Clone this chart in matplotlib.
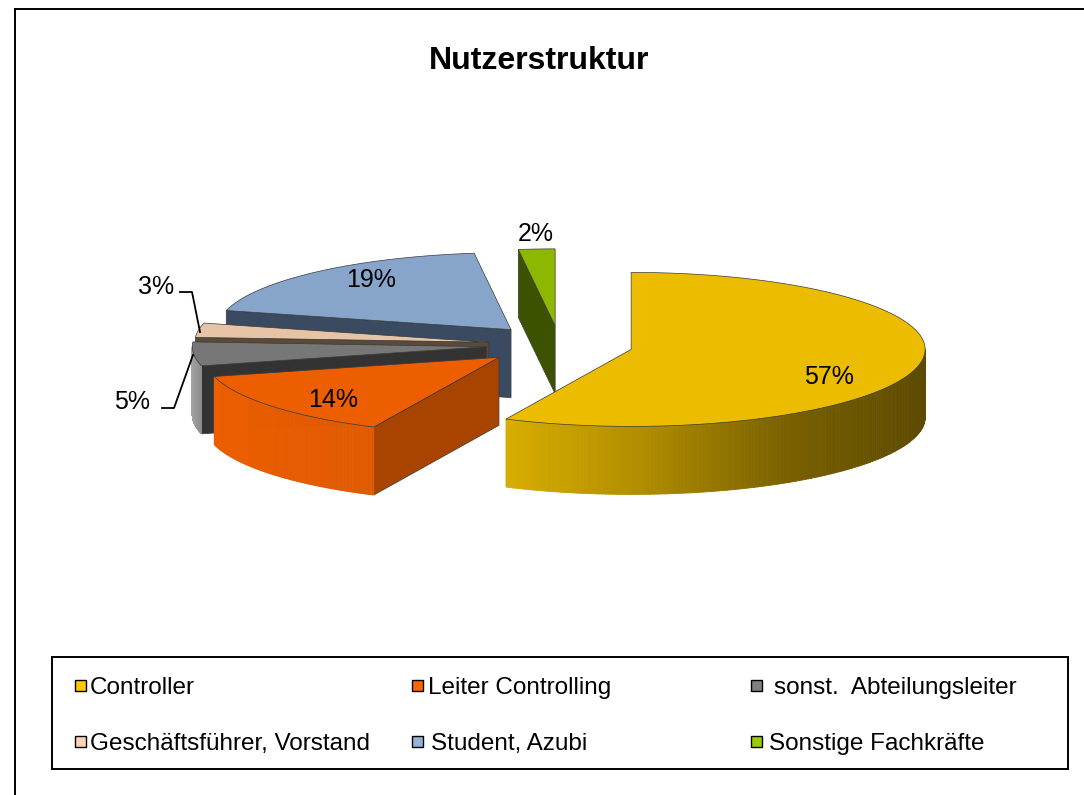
import numpy as np
import matplotlib
matplotlib.use("Agg")
import matplotlib.pyplot as plt
from matplotlib.colors import LinearSegmentedColormap
from matplotlib.collections import PolyCollection
from matplotlib.patches import Polygon, Rectangle

plt.rcParams["font.family"] = ["Liberation Sans", "DejaVu Sans"]

categories = ["Controller", "Leiter Controlling", "sonst.  Abteilungsleiter",
              "Geschäftsführer, Vorstand", "Student, Azubi", "Sonstige Fachkräfte"]
values = [57, 14, 5, 3, 19, 2]

top_colors = ["#EBBC00", "#EC5E00", "#777777", "#E8C4A6", "#87A4CB", "#8CB800"]
face_colors = ["#6A5500", "#A94400", "#333333", "#5A4A3C", "#3A4A60", "#3D5200"]
outer_colors = [["#D8AE00", "#B08C00", "#7A6100", "#5C4A00"],
                ["#EC5E00", "#E05A00"],
                ["#A0A0A0", "#8A8A8A"],
                ["#8A7460", "#8A7460"],
                ["#3A4A60", "#3A4A60"],
                ["#3D5200", "#3D5200"]]
legend_colors = ["#FFC800", "#FF6600", "#808080", "#FFD3B4", "#95B3D7", "#99CC00"]

CENTER = (556, 345)
RX, RY = 294, 77
DEPTH = 68
EXPLODE = [77, 74, 70, 68, 68, 77]
NUDGE = [(0, 0), (0, 0), (0, 0), (0, 0), (0, -2), (4, 1)]
DRAW_ORDER = [4, 5, 3, 2, 1, 0]

LABEL_POS = [(829, 377), (333, 400), (132, 402), (156, 287), (371, 280), (536, 234)]
LEADERS = {2: [(162, 408), (174, 408), (193, 355)],
           3: [(180, 292), (192, 292), (200, 332)]}


def point(apex, theta):
    return apex[0] + RX * np.sin(theta), apex[1] - RY * np.cos(theta)


def i_z(i):
    return 2 + DRAW_ORDER.index(i)


def draw_slice(ax, i, start, end):
    mid = (start + end) / 2
    apex = (CENTER[0] + EXPLODE[i] * np.sin(mid) + NUDGE[i][0],
            CENTER[1] - EXPLODE[i] * RY / RX * np.cos(mid) + NUDGE[i][1])
    edge_kw = dict(edgecolor="#3a3a3a", linewidth=0.5)

    # radial wall, only the one facing the viewer
    for theta, visible in [(start, np.sin(start) < -1e-6), (end, np.sin(end) > 1e-6)]:
        if visible:
            x, y = point(apex, theta)
            ax.add_patch(Polygon([apex, (x, y), (x, y + DEPTH), (apex[0], apex[1] + DEPTH)],
                                 facecolor=face_colors[i], zorder=i_z(i), **edge_kw))

    # outer curved wall, front half only
    lo, hi = max(start, np.pi / 2), min(end, 3 * np.pi / 2)
    if hi > lo:
        th = np.linspace(lo, hi, 160)
        xs, ys = point(apex, th)
        quads = [[(xs[k], ys[k]), (xs[k + 1], ys[k + 1]),
                  (xs[k + 1], ys[k + 1] + DEPTH), (xs[k], ys[k] + DEPTH)]
                 for k in range(len(th) - 1)]
        cmap = LinearSegmentedColormap.from_list("wall", outer_colors[i])
        pos = (xs[:-1] - xs.min()) / max(xs.max() - xs.min(), 1)
        cols = cmap(pos)
        ax.add_collection(PolyCollection(quads, facecolors=cols, edgecolors=cols,
                                         linewidths=0.6, zorder=i_z(i)))

    # top surface
    th = np.linspace(start, end, 120)
    xs, ys = point(apex, th)
    ax.add_patch(Polygon([apex] + list(zip(xs, ys)), facecolor=top_colors[i],
                         zorder=i_z(i) + 0.5, **edge_kw))


def main():
    fig = plt.figure(figsize=(10.84, 7.95), dpi=100)
    ax = fig.add_axes([0, 0, 1, 1])
    ax.set_xlim(0, 1084)
    ax.set_ylim(795, 0)
    ax.axis("off")

    # outer chart frame, the right side is cut off in the source
    ax.plot([15, 15], [795, 8.5], color="black", lw=1.4, zorder=1)
    ax.plot([15, 1084], [8.5, 8.5], color="black", lw=1.4, zorder=1)

    ax.text(539, 61, "Nutzerstruktur", fontsize=23, fontweight="bold", ha="center", va="center")

    shares = np.array(values) / sum(values)
    edges = np.concatenate([[0], np.cumsum(shares)]) * 2 * np.pi
    for i in DRAW_ORDER:
        draw_slice(ax, i, edges[i], edges[i + 1])

    for i, pos in enumerate(LABEL_POS):
        ax.text(pos[0], pos[1], f"{values[i]}%", fontsize=18, ha="center", va="center", zorder=20)

    for pts in LEADERS.values():
        xs, ys = zip(*pts)
        ax.plot(xs, ys, color="black", lw=1.3, zorder=19)

    # legend box
    ax.add_patch(Rectangle((52, 657), 1016, 112, facecolor="white", edgecolor="black",
                           linewidth=1.4, zorder=1))
    col_x = [75, 412, 751]
    row_y = [686, 742]
    text_x = [[90, 428, 774], [90, 431, 769]]
    for n, name in enumerate(categories):
        row, col = n // 3, n % 3
        ax.add_patch(Rectangle((col_x[col], row_y[row] - 6), 11, 11, facecolor=legend_colors[n],
                               edgecolor="black", linewidth=1.0, zorder=2))
        ax.text(text_x[row][col], row_y[row] + 2, name, fontsize=17.5, ha="left", va="center", zorder=3)

    fig.savefig("out.png", dpi=100)


if __name__ == "__main__":
    main()
